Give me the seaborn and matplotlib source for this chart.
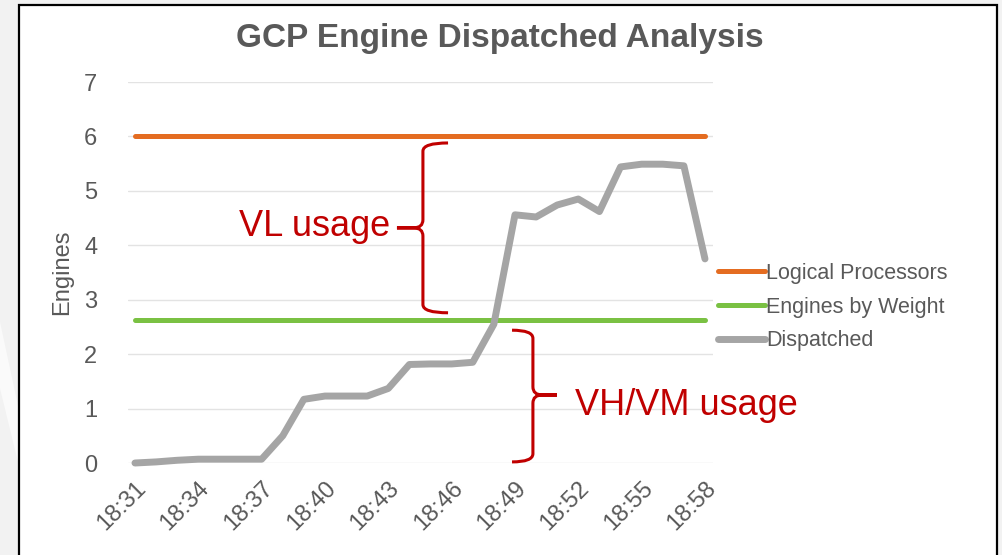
import pandas as pd
import matplotlib.pyplot as plt
import seaborn as sns
import numpy as np
from matplotlib.path import Path
from matplotlib.patches import PathPatch, Rectangle, Polygon

# DATA
times = ["18:31", "18:32", "18:33", "18:34", "18:35", "18:36", "18:37",
         "18:38", "18:39", "18:40", "18:41", "18:42", "18:43", "18:44",
         "18:45", "18:46", "18:47", "18:48", "18:49", "18:50", "18:51",
         "18:52", "18:53", "18:54", "18:55", "18:56", "18:57", "18:58"]
dispatched = [0.0, 0.02, 0.05, 0.07, 0.07, 0.07, 0.07, 0.5, 1.17, 1.23,
              1.23, 1.23, 1.37, 1.81, 1.82, 1.82, 1.85, 2.55, 4.56, 4.52,
              4.74, 4.85, 4.62, 5.44, 5.49, 5.49, 5.46, 3.75]
logical_processors = [6.0] * len(times)
engines_by_weight = [2.62] * len(times)
tick_labels = ["18:31", "18:34", "18:37", "18:40", "18:43",
               "18:46", "18:49", "18:52", "18:55", "18:58"]

df = pd.DataFrame({"idx": np.arange(len(times)), "time": times,
                   "Logical Processors": logical_processors,
                   "Engines by Weight": engines_by_weight,
                   "Dispatched": dispatched})

sns.set_style("white")
plt.rcParams["font.family"] = ["Liberation Sans", "DejaVu Sans"]

TXT = "#595959"
ORANGE = "#E46C21"
GREEN = "#7AC143"
GRAY = "#A5A5A5"
RED = "#C00000"

fig = plt.figure(figsize=(10.02, 5.55), dpi=100, facecolor="#f2f2f2")

# slide background + chart frame
fig.patches.append(Polygon([(0, 0.42), (0.019, 0.26), (0.019, 0.16), (0, 0.30)],
                           closed=True, transform=fig.transFigure,
                           facecolor="#fafafa", edgecolor="none", zorder=-10))
fig.patches.append(Rectangle((19 / 1002, -0.05), 978 / 1002, 1.05 - 5 / 555,
                             transform=fig.transFigure, facecolor="white",
                             edgecolor="black", lw=1.6, zorder=-10))

ax = fig.add_axes([128 / 1002, 1 - 463 / 555, 585 / 1002, 381 / 555])
ax.set_facecolor("none")

sns.lineplot(data=df, x="idx", y="Logical Processors", color=ORANGE,
             linewidth=3.6, ax=ax, label="Logical Processors", clip_on=False)
sns.lineplot(data=df, x="idx", y="Engines by Weight", color=GREEN,
             linewidth=3.6, ax=ax, label="Engines by Weight", clip_on=False)
sns.lineplot(data=df, x="idx", y="Dispatched", color=GRAY,
             linewidth=5, ax=ax, label="Dispatched", clip_on=False)
for ln in ax.lines:
    ln.set_solid_capstyle("round")
    ln.set_solid_joinstyle("round")

ax.set_xlim(-0.33, 27.38)
ax.set_ylim(0, 7)
ax.set_yticks(range(0, 8))
ax.set_xticks([times.index(t) for t in tick_labels])
ax.set_xticklabels(tick_labels, rotation=45, ha="right", rotation_mode="anchor")
ax.tick_params(axis="both", length=0, labelsize=17, labelcolor=TXT)
ax.tick_params(axis="y", pad=22)
ax.tick_params(axis="x", pad=10)
ax.grid(axis="y", color="#e3e3e3", linewidth=1)
ax.set_axisbelow(True)
for s in ax.spines.values():
    s.set_visible(False)
ax.set_xlabel("")
ax.set_ylabel("Engines", fontsize=17, color=TXT, labelpad=8)

fig.text(500 / 1002, 1 - 39 / 555, "GCP Engine Dispatched Analysis",
         ha="center", va="center", fontsize=24, fontweight="bold", color=TXT)

leg = ax.legend(loc="center left", bbox_to_anchor=(718 / 1002, 1 - 307 / 555),
                bbox_transform=fig.transFigure, frameon=False, fontsize=15.5,
                handlelength=2.2, handletextpad=0.05, labelspacing=0.6,
                borderpad=0, borderaxespad=0)
for t in leg.get_texts():
    t.set_color(TXT)


def brace(ax, x0, top, bot, mid, hook, tip, r=0.15, s=0.45):
    d = np.sign(hook)
    verts = [(x0 + hook, top), (x0, top), (x0, top - r), (x0, mid + r),
             (x0, mid), (x0 - d * s, mid), (tip, mid),
             (tip, mid), (x0 - d * s, mid), (x0, mid), (x0, mid - r),
             (x0, bot + r), (x0, bot), (x0 + hook, bot)]
    codes = [Path.MOVETO, Path.CURVE3, Path.CURVE3, Path.LINETO,
             Path.CURVE3, Path.CURVE3, Path.LINETO,
             Path.MOVETO, Path.LINETO, Path.CURVE3, Path.CURVE3,
             Path.LINETO, Path.CURVE3, Path.CURVE3]
    ax.add_patch(PathPatch(Path(verts, codes), facecolor="none", edgecolor=RED,
                           lw=2.2, clip_on=False, zorder=5))


brace(ax, 13.64, 5.88, 2.76, 4.32, 1.19, 12.41)
brace(ax, 18.85, 2.44, 0.02, 1.25, -0.99, 19.99)
ax.text(8.53, 4.17, "VL usage", color=RED, fontsize=26, ha="center", va="baseline")
ax.text(26.12, 0.88, "VH/VM usage", color=RED, fontsize=26, ha="center", va="baseline")

plt.savefig("out.png", dpi=100, facecolor=fig.get_facecolor())
